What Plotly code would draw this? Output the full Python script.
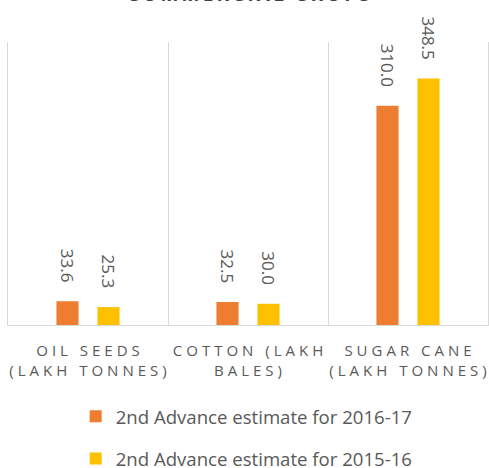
import plotly.graph_objects as go

CATEGORIES = ["OIL SEEDS<br>(LAKH TONNES)", "COTTON (LAKH<br>BALES)", "SUGAR CANE<br>(LAKH TONNES)"]
SERIES_NAMES = ["2nd Advance estimate for 2016-17", "2nd Advance estimate for 2015-16"]
VALUES_2016_17 = [33.6, 32.5, 310.0]
VALUES_2015_16 = [25.3, 30.0, 348.5]
TITLE = "COMMERCIAL CROPS"

ORANGE = "#ED7D31"
YELLOW = "#FFC000"
GREY_TEXT = "#595959"
GRID = "#D9D9D9"
FONT = "Open Sans"


def spaced(text: str, gap: str = "\u2009") -> str:
    # imitate Excel's letter spacing with thin spaces between characters
    parts = text.split("<br>")
    return "<br>".join(gap.join(p) for p in parts)


cats = [spaced(c, "\u2009\u200a") for c in CATEGORIES]

fig = go.Figure()
for name, vals, color, group in [
    (SERIES_NAMES[0], VALUES_2016_17, ORANGE, "a"),
    (SERIES_NAMES[1], VALUES_2015_16, YELLOW, "b"),
]:
    fig.add_trace(
        go.Bar(
            x=cats,
            y=vals,
            name=name,
            marker=dict(color=color, line=dict(width=0)),
            legendgroup=group,
        )
    )

# rotated data labels
for vals, shift in [(VALUES_2016_17, -20.5), (VALUES_2015_16, 20.5)]:
    for c, v in zip(cats, vals):
        fig.add_annotation(
            x=c, y=v, xref="x", yref="y",
            text=f"{v:.1f}", textangle=90, showarrow=False,
            xanchor="center", yanchor="bottom", yshift=17, xshift=shift,
            font=dict(family=FONT, size=17, color=GREY_TEXT),
        )

fig.add_annotation(
    x=0.5, y=1, xref="paper", yref="paper", xanchor="center", yanchor="bottom",
    yshift=33, showarrow=False, text="<b>" + spaced(TITLE) + "</b>",
    font=dict(family=FONT, size=19, color="#404040"),
)

fig.update_layout(
    width=489,
    height=468,
    margin=dict(l=8, r=1, t=42, b=143, autoexpand=False),
    paper_bgcolor="white",
    plot_bgcolor="white",
    barmode="group",
    bargap=0.4875,
    bargroupgap=0.46,
    showlegend=True,
    legend=dict(
        orientation="v", x=0.141, xanchor="left", y=-0.257, yanchor="top",
        font=dict(family=FONT, size=18.6, color=GREY_TEXT),
        tracegroupgap=15, traceorder="grouped",
    ),
    font=dict(family=FONT, color=GREY_TEXT),
)
fig.update_xaxes(
    tickson="boundaries", showgrid=True, gridcolor=GRID, gridwidth=1,
    showline=True, linecolor=GRID, linewidth=1, ticks="",
    tickfont=dict(family=FONT, size=15, color=GREY_TEXT), tickangle=0,
    ticklabelstandoff=12,
    range=[-0.5, 2.5],
)
fig.update_yaxes(
    range=[0, 400], showgrid=False, zeroline=False, showticklabels=False,
    ticks="", showline=True, mirror=True, linecolor=GRID, linewidth=1,
)

# the page body has a default 8px margin; drop it so the figure fills the window
fig.write_html(
    "out.html",
    config={"displayModeBar": False},
    post_script="document.body.style.margin='0';",
)
